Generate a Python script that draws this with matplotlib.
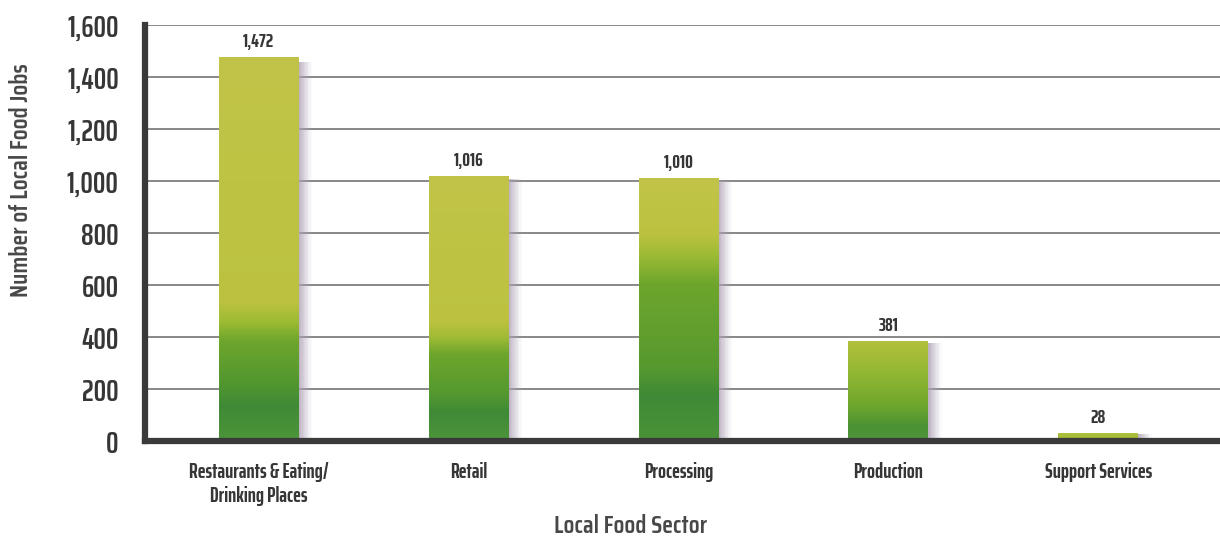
import matplotlib
matplotlib.use("Agg")
import matplotlib.pyplot as plt
import numpy as np
from matplotlib.colors import LinearSegmentedColormap, to_rgb
from matplotlib.patches import Rectangle

# ---- data ----
sectors = ["Restaurants & Eating/\nDrinking Places", "Retail", "Processing",
           "Production", "Support Services"]
jobs = [1472, 1016, 1010, 381, 28]
value_labels = ["1,472", "1,016", "1,010", "381", "28"]
y_ticks = [0, 200, 400, 600, 800, 1000, 1200, 1400, 1600]
y_tick_labels = ["0", "200", "400", "600", "800", "1,000", "1,200", "1,400", "1,600"]

# ---- fonts ----
narrow = ["Saira ExtraCondensed", "Fira Sans Extra Condensed", "DejaVu Sans"]
title_font = ["Saira Condensed", "Fira Sans Condensed", "DejaVu Sans"]
plt.rcParams["font.family"] = narrow

text_dark = "#363636"
text_grey = "#484848"

fig = plt.figure(figsize=(12.2, 5.4), dpi=100)
ax = fig.add_axes([0.119, 0.183, 0.881, 0.771])

x = np.arange(len(sectors))
bars = ax.bar(x, jobs, width=0.38, facecolor="none", edgecolor="none", zorder=3)

ax.set_xlim(-0.54, 4.58)
ax.set_ylim(0, 1600)

# horizontal gridlines behind the bars
ax.set_yticks(y_ticks)
ax.set_yticklabels(y_tick_labels)
ax.yaxis.grid(True, color="#888888", linewidth=1.4, zorder=0)
ax.set_axisbelow(True)

# per-bar gradient stops (fraction of bar height from bottom)
dark = "#3f8a36"
green = "#6ea62c"
yellow = "#bcc240"
top = "#c1c448"
gradients = [
    [(0.0, "#4d9539"), (0.09, dark), (0.15, "#52972f"), (0.26, green), (0.31, "#9cbb33"),
     (0.36, yellow), (1.0, top)],
    [(0.0, "#4d9539"), (0.11, dark), (0.18, "#55992f"), (0.33, green), (0.39, "#a0bb35"),
     (0.45, yellow), (1.0, top)],
    [(0.0, "#4a9338"), (0.17, dark), (0.28, "#57992f"), (0.60, green), (0.71, "#9ebb35"),
     (0.79, yellow), (1.0, top)],
    [(0.0, "#4d9539"), (0.15, "#4b9234"), (0.35, green), (0.70, "#94b834"),
     (1.0, "#b3c03d")],
    [(0.0, "#9dbb36"), (1.0, "#b0c03c")],
]

shadow_rgb = np.array(to_rgb("#aea2b5"))
for i, patch in enumerate(bars.patches):
    x0 = patch.get_x()
    w = patch.get_width()
    h = patch.get_height()
    cmap = LinearSegmentedColormap.from_list(f"bar{i}", gradients[i])
    grad = np.linspace(0, 1, 256).reshape(-1, 1)
    ax.imshow(grad, cmap=cmap, aspect="auto", origin="lower",
              extent=(x0, x0 + w, 0, h), zorder=3, interpolation="bicubic")
    # soft shadow along the right-hand side of each bar
    sw = 0.065
    n = 10
    for k in range(n):
        a = 0.8 * (1 - k / n) ** 1.2
        ax.add_patch(Rectangle((x0 + w + k * sw / n, 0), sw / n, h * 0.99,
                               facecolor=shadow_rgb, alpha=a, edgecolor="none",
                               zorder=2.5))
    ax.text(x[i], h + 26, value_labels[i], ha="center", va="bottom",
            fontsize=14, fontweight="bold", color=text_dark, zorder=5)

# spines
for side in ["top", "right"]:
    ax.spines[side].set_visible(False)
for side in ["left", "bottom"]:
    ax.spines[side].set_color("#3a3a3a")
    ax.spines[side].set_linewidth(4.5)
    ax.spines[side].set_zorder(6)

ax.tick_params(axis="y", length=0, pad=19, labelsize=22.5, labelcolor=text_dark)
ax.tick_params(axis="x", length=0, pad=15, labelsize=15, labelcolor=text_dark)
for lbl in ax.get_yticklabels():
    lbl.set_fontweight("semibold")
ax.set_xticks(x)
ax.set_xticklabels(sectors, fontweight="bold", linespacing=1.25)

ax.set_xlabel("Local Food Sector", fontsize=18, color=text_grey, family=title_font,
              fontweight="semibold", va="center", ha="center")
ax.xaxis.set_label_coords(0.452, -0.204)
ax.set_ylabel("Number of Local Food Jobs", fontsize=18, color=text_grey, family=title_font,
              fontweight="semibold", va="center", ha="center", rotation_mode="default")
ax.yaxis.set_label_coords(-0.116, 0.627)

fig.savefig("out.png", dpi=100, facecolor="white")
